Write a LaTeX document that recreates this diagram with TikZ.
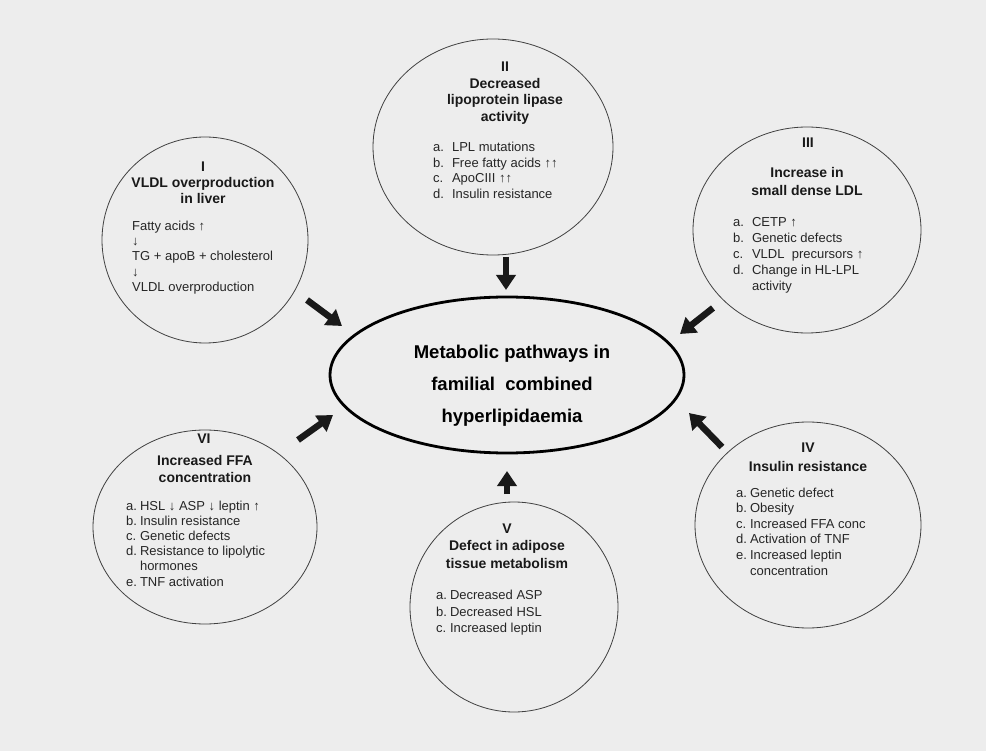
\documentclass[tikz,border=0pt]{standalone}
\usepackage{fontspec}
\setmainfont{Liberation Sans}
\usetikzlibrary{shapes.geometric,arrows.meta}
\tikzset{
  circ/.style={ellipse, draw=black!75, line width=0.8pt, inner sep=0pt},
  mainell/.style={ellipse, draw=black, line width=2.8pt, inner sep=0pt},
  ttl/.style={font=\fontsize{14}{16.5}\selectfont\bfseries, align=center, inner sep=0pt, text=black!90},
  itm/.style={font=\fontsize{13}{15.7}\selectfont, align=left, inner sep=0pt, anchor=west, text=black!85},
  bigarrow/.style={line width=6.5pt, -{Triangle[length=15pt,width=19pt]}, draw=black!90},
}
\begin{document}
\begin{tikzpicture}[x=1pt,y=-1pt]
\fill[black!7] (0,0) rectangle (986,751);
\useasboundingbox (0,0) rectangle (986,751);

% central ellipse
\node[mainell, minimum width=354pt, minimum height=156pt] (hub) at (507,375) {};
\node[font=\fontsize{18.5}{32}\selectfont\bfseries, align=center, inner sep=0pt] (hubtxt) at (512,386)
  {Metabolic pathways in\\familial\ \ combined\\hyperlipidaemia};

% circles
\node[circ, minimum width=206pt, minimum height=206pt] (c1) at (205,240) {};
\node[circ, minimum width=240pt, minimum height=216pt] (c2) at (493,147) {};
\node[circ, minimum width=228pt, minimum height=206pt] (c3) at (807,230) {};
\node[circ, minimum width=226pt, minimum height=206pt] (c4) at (808,525) {};
\node[circ, minimum width=208pt, minimum height=210pt] (c5) at (514,607) {};
\node[circ, minimum width=224pt, minimum height=194pt] (c6) at (205,527) {};

% I
\node[ttl, font=\fontsize{14}{16}\selectfont\bfseries] (t1) at (203,183) {I\\VLDL overproduction\\in liver};
\node[itm, font=\fontsize{13}{15.4}\selectfont] (i1) at (132,257.5) {Fatty acids ↑\\↓\\TG + apoB + cholesterol\\↓\\VLDL overproduction};

% II
\node[ttl, font=\fontsize{14}{16.7}\selectfont\bfseries] (t2) at (505,93) {II\\Decreased\\lipoprotein lipase\\activity};
\node[itm] (i2) at (433,172) {\begin{tabular}{@{}l@{\hspace{8pt}}l@{}}a. & LPL mutations\\ b. & Free fatty acids ↑↑\\ c. & ApoCIII ↑↑\\ d. & Insulin resistance\end{tabular}};

% III
\node[ttl] (n3) at (808,143) {III};
\node[ttl, font=\fontsize{14}{18}\selectfont\bfseries] (t3) at (807,181) {Increase in\\small dense LDL};
\node[itm, font=\fontsize{13}{16}\selectfont] (i3) at (733,255) {\begin{tabular}{@{}l@{\hspace{8pt}}l@{}}a. & CETP ↑\\ b. & Genetic defects\\ c. & VLDL\ \ precursors ↑\\ d. & Change in HL-LPL\\ & activity\end{tabular}};

% IV
\node[ttl, font=\fontsize{14}{19}\selectfont\bfseries] (t4) at (808,457.5) {IV\\Insulin resistance};
\node[itm, font=\fontsize{13}{15.6}\selectfont] (i4) at (736,533) {\begin{tabular}{@{}l@{\hspace{3pt}}l@{}}a. & Genetic defect\\ b. & Obesity\\ c. & Increased FFA conc\\ d. & Activation of TNF\\ e. & Increased leptin\\ & concentration\end{tabular}};

% V
\node[ttl, font=\fontsize{14}{17.5}\selectfont\bfseries] (t5) at (507,546) {V\\Defect in adipose\\tissue metabolism};
\node[itm, font=\fontsize{13}{16.5}\selectfont] (i5) at (436,613) {\begin{tabular}{@{}l@{\hspace{3pt}}l@{}}a. & Decreased ASP\\ b. & Decreased HSL\\ c. & Increased leptin\end{tabular}};

% VI
\node[ttl] (n6) at (204,439) {VI};
\node[ttl, font=\fontsize{14}{17}\selectfont\bfseries] (t6) at (205,468.5) {Increased FFA\\concentration};
\node[itm, font=\fontsize{13}{15.2}\selectfont] (i6) at (126,545) {\begin{tabular}{@{}l@{\hspace{3pt}}l@{}}a. & HSL ↓ ASP ↓ leptin ↑\\ b. & Insulin resistance\\ c. & Genetic defects\\ d. & Resistance to lipolytic\\ & hormones\\ e. & TNF activation\end{tabular}};

% arrows
\coordinate (a1t) at (307,300); \coordinate (a1h) at (342,326);
\coordinate (a2t) at (506,257); \coordinate (a2h) at (506,290);
\coordinate (a3t) at (713,308); \coordinate (a3h) at (680,334);
\coordinate (a4t) at (722,447); \coordinate (a4h) at (689,413);
\coordinate (a5t) at (507,494); \coordinate (a5h) at (507,471);
\coordinate (a6t) at (298,440); \coordinate (a6h) at (333,415);
\draw[bigarrow] (a1t) -- (a1h);
\draw[bigarrow] (a2t) -- (a2h);
\draw[bigarrow] (a3t) -- (a3h);
\draw[bigarrow] (a4t) -- (a4h);
\draw[bigarrow] (a5t) -- (a5h);
\draw[bigarrow] (a6t) -- (a6h);
\end{tikzpicture}
\end{document}
